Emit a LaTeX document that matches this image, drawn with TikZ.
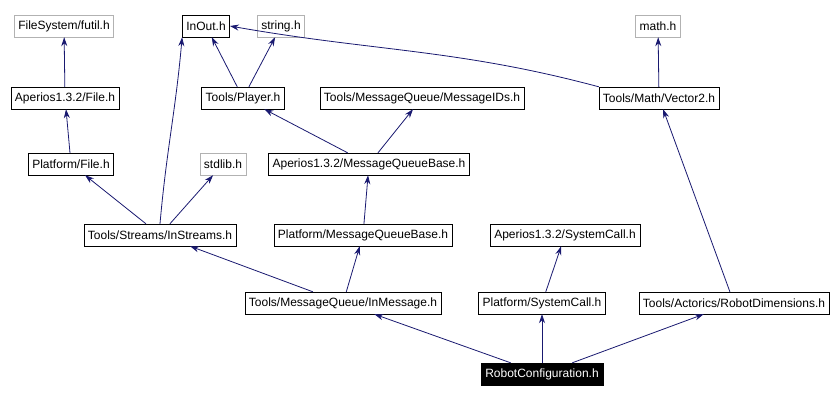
\documentclass[tikz,border=0pt]{standalone}
\usepackage{fontspec}
\setmainfont{Liberation Sans}
\usetikzlibrary{arrows.meta}
\definecolor{edgeblue}{RGB}{25,25,112}
\tikzset{
  hdr/.style={draw=black, fill=white, inner xsep=4pt, inner ysep=3pt, font=\fontsize{12}{13}\selectfont, minimum height=22pt},
  sys/.style={hdr, draw=gray!60},
  root/.style={hdr, fill=black, text=white},
  inc/.style={-{Stealth[length=9pt,width=6pt]}, edgeblue, line width=0.8pt}
}
\begin{document}
\begin{tikzpicture}[x=1pt,y=-1pt]
  \useasboundingbox (0,0) rectangle (840,401);

  % top row
  \node[sys] (futil) at (64,26) {FileSystem/futil.h};
  \node[hdr] (inout) at (206,26) {InOut.h};
  \node[sys] (string) at (281,26) {string.h};
  \node[sys] (math) at (658,26) {math.h};

  % second row
  \node[hdr] (afile) at (65,98) {Aperios1.3.2/File.h};
  \node[hdr] (player) at (243,98) {Tools/Player.h};
  \node[hdr] (msgids) at (422,98) {Tools/MessageQueue/MessageIDs.h};
  \node[hdr] (vector) at (659,98) {Tools/Math/Vector2.h};

  % third row
  \node[hdr] (pfile) at (71,164) {Platform/File.h};
  \node[sys] (stdlib) at (223,164) {stdlib.h};
  \node[hdr] (amqb) at (369,164) {Aperios1.3.2/MessageQueueBase.h};

  % fourth row
  \node[hdr] (instreams) at (160,235) {Tools/Streams/InStreams.h};
  \node[hdr] (pmqb) at (363,235) {Platform/MessageQueueBase.h};
  \node[hdr] (asyscall) at (565,235) {Aperios1.3.2/SystemCall.h};

  % fifth row
  \node[hdr] (inmsg) at (343,303) {Tools/MessageQueue/InMessage.h};
  \node[hdr] (psyscall) at (542,303) {Platform/SystemCall.h};
  \node[hdr] (robdim) at (734,303) {Tools/Actorics/RobotDimensions.h};

  % root
  \node[root] (robconf) at (542,374) {RobotConfiguration.h};

  % includes
  \draw[inc] (afile) -- (futil);
  \draw[inc] (pfile) -- (afile);
  \draw[inc] (instreams) -- (pfile);
  \draw[inc] (instreams.north) to[out=85,in=-95] (inout.south west);
  \draw[inc] (instreams) -- (stdlib);
  \draw[inc] (player) -- (inout);
  \draw[inc] (player) -- (string);
  \draw[inc] (vector.north west) to[out=165,in=-10] (inout.east);
  \draw[inc] (vector) -- (math);
  \draw[inc] (amqb) -- (player);
  \draw[inc] (amqb) -- (msgids);
  \draw[inc] (pmqb) -- (amqb);
  \draw[inc] (inmsg) -- (instreams);
  \draw[inc] (inmsg) -- (pmqb);
  \draw[inc] (psyscall) -- (asyscall);
  \draw[inc] (robdim) -- (vector);
  \draw[inc] (robconf) -- (inmsg);
  \draw[inc] (robconf) -- (psyscall);
  \draw[inc] (robconf) -- (robdim);
\end{tikzpicture}
\end{document}
